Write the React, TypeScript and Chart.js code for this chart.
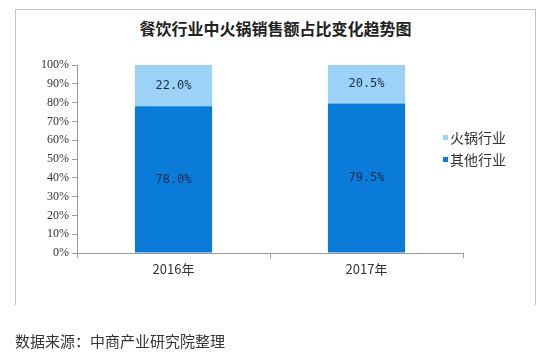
import React, { useEffect, useRef } from "react";
import { Chart, registerables } from "chart.js";

Chart.register(...registerables);

const title = "餐饮行业中火锅销售额占比变化趋势图";
const source = "数据来源：中商产业研究院整理";
const categories = ["2016年", "2017年"];
const seriesNames = ["其他行业", "火锅行业"];
const otherValues = [78.0, 79.5];
const hotpotValues = [22.0, 20.5];
const seriesColors = ["#0a7bd8", "#9dd2f7"];
const yTicks = [0, 10, 20, 30, 40, 50, 60, 70, 80, 90, 100];

const CJK = '"Noto Sans CJK SC", "Liberation Sans", sans-serif';

const labelPlugin = {
  id: "barLabels",
  afterDatasetsDraw(chart: any) {
    const ctx = chart.ctx;
    ctx.save();
    ctx.font = '12px "DejaVu Sans Mono", monospace';
    ctx.fillStyle = "#1c2a4a";
    ctx.textAlign = "center";
    ctx.textBaseline = "middle";
    chart.data.datasets.forEach((ds: any, di: number) => {
      const meta = chart.getDatasetMeta(di);
      meta.data.forEach((bar: any, i: number) => {
        const v = ds.data[i];
        const cy = (bar.y + bar.base) / 2;
        ctx.fillText(v.toFixed(1) + "%", bar.x, cy);
      });
    });
    ctx.restore();
  },
};

export default function App() {
  const ref = useRef<HTMLCanvasElement | null>(null);
  useEffect(() => {
    if (!ref.current) return;
    const chart = new Chart(ref.current, {
      type: "bar",
      data: {
        labels: categories,
        datasets: [
          { label: seriesNames[0], data: otherValues, backgroundColor: seriesColors[0], barPercentage: 0.4, categoryPercentage: 1 },
          { label: seriesNames[1], data: hotpotValues, backgroundColor: seriesColors[1], barPercentage: 0.4, categoryPercentage: 1 },
        ],
      },
      options: {
        responsive: false,
        animation: false,
        layout: { padding: { left: 0, right: 82, top: 65, bottom: 0 } },
        plugins: {
          legend: { display: false },
          tooltip: { enabled: false },
          title: { display: false },
        },
        scales: {
          x: {
            stacked: true,
            grid: { display: true, drawOnChartArea: false, drawTicks: true, tickLength: 5, color: "#999", offset: true },
            border: { display: true, color: "#999" },
            ticks: { color: "#333", font: { family: CJK, size: 13 }, padding: 3 },
            afterFit: (s: any) => { s.height = 107; },
          },
          y: {
            stacked: true,
            min: 0,
            max: 100,
            afterBuildTicks: (s: any) => { s.ticks = yTicks.map((v) => ({ value: v })); },
            grid: { display: true, drawOnChartArea: false, drawTicks: true, tickLength: 5, color: "#999" },
            border: { display: true, color: "#999" },
            ticks: {
              color: "#333",
              font: { family: '"Liberation Serif", serif', size: 12 },
              padding: 3,
              callback: (v: any) => v + "%",
            },
            afterFit: (s: any) => { s.width = 77; },
          },
        },
      },
      plugins: [labelPlugin],
    });
    return () => chart.destroy();
  }, []);

  const legendItems = [1, 0];
  return (
    <div style={{ position: "fixed", left: 0, top: 0, width: 545, height: 360, background: "#fff" }}>
      <div
        style={{
          position: "absolute",
          left: 15,
          top: 9,
          width: 519,
          height: 295,
          borderLeft: "1px solid #c4c4c4",
          borderRight: "1px solid #c4c4c4",
          borderTop: "1px solid #c4c4c4",
        }}
      />
      <div
        style={{
          position: "absolute",
          left: 15,
          top: 17,
          width: 521,
          textAlign: "center",
          fontFamily: CJK,
          fontSize: 16,
          fontWeight: "bold",
          color: "#222",
          lineHeight: "22px",
          whiteSpace: "nowrap",
        }}
      >
        {title}
      </div>
      <canvas ref={ref} width={545} height={360} style={{ position: "absolute", left: 0, top: 0, width: 545, height: 360 }} />
      <div style={{ position: "absolute", left: 443, top: 126, fontFamily: CJK, fontSize: 14, color: "#333", lineHeight: "22px" }}>
        {legendItems.map((i) => (
          <div key={i} style={{ display: "flex", alignItems: "center" }}>
            <span style={{ display: "inline-block", width: 5, height: 5, background: seriesColors[i], marginRight: 2 }} />
            <span>{seriesNames[i]}</span>
          </div>
        ))}
      </div>
      <div style={{ position: "absolute", left: 15, top: 330, fontFamily: CJK, fontSize: 15, color: "#333", whiteSpace: "nowrap" }}>
        {source}
      </div>
    </div>
  );
}
